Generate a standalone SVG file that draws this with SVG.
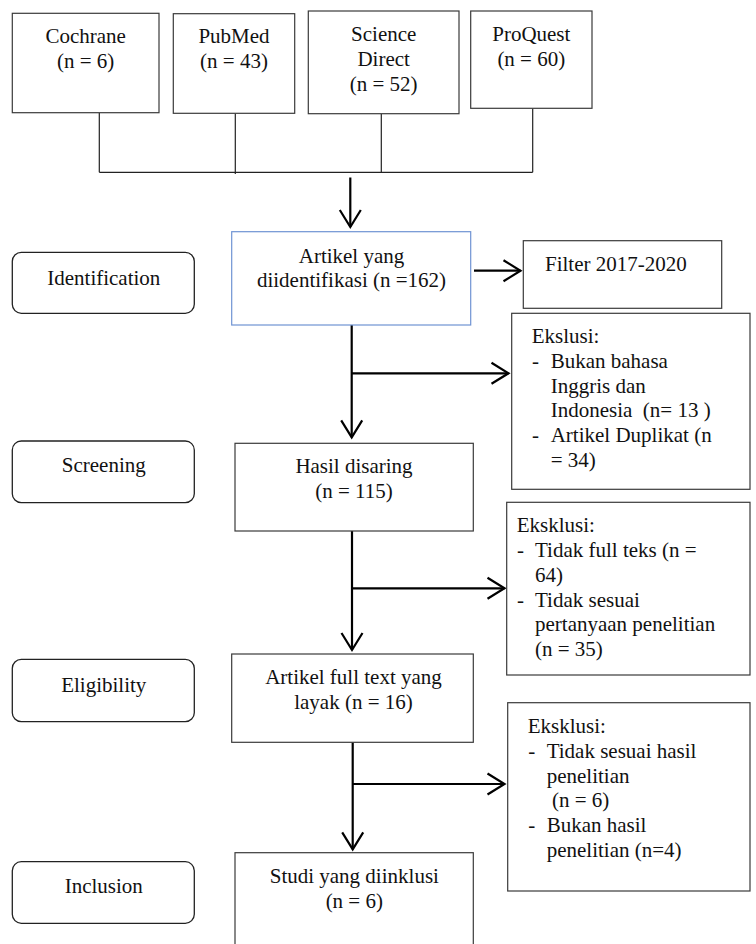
<svg xmlns="http://www.w3.org/2000/svg" width="756" height="944" viewBox="0 0 756 944">
<style>
text{font-family:"Liberation Serif","Times New Roman",serif;font-size:21px;fill:#111;}
.c{text-anchor:middle;}
.p{white-space:pre;}
.box{fill:#fff;stroke:#3a3a3a;stroke-width:1.2;}
.blue{fill:#fff;stroke:#6f93d3;stroke-width:1.2;}
.stage{fill:#fff;stroke:#222;stroke-width:1.3;}
.thin{fill:none;stroke:#222;stroke-width:1.2;}
.flow{fill:none;stroke:#000;stroke-width:2.2;}
</style>
<defs>
<marker id="arr" viewBox="0 0 22 24" refX="19" refY="12" markerWidth="22" markerHeight="24" markerUnits="userSpaceOnUse" orient="auto">
<path d="M2,1.5 L19,12 L2,22.5" fill="none" stroke="#000" stroke-width="2.2"/>
</marker>
</defs>

<g id="connectors">
<path class="thin" d="M99.3,113 V172.3 M235.3,113.5 V174 M381.3,114 V172.3 M532.7,108.5 V172.3 M99.3,172.3 H532.7"/>
<line class="flow" x1="350.3" y1="177.5" x2="350.3" y2="227" marker-end="url(#arr)"/>
<line class="flow" x1="474" y1="270.7" x2="520.5" y2="270.7" marker-end="url(#arr)"/>
<line class="flow" x1="351.7" y1="325" x2="351.7" y2="437.3" marker-end="url(#arr)"/>
<line class="flow" x1="351.7" y1="373.3" x2="508.5" y2="373.3" marker-end="url(#arr)"/>
<line class="flow" x1="352" y1="521.7" x2="352" y2="650" marker-end="url(#arr)"/>
<line class="flow" x1="352" y1="588.3" x2="504.5" y2="588.3" marker-end="url(#arr)"/>
<line class="flow" x1="352.7" y1="742.3" x2="352.7" y2="849.3" marker-end="url(#arr)"/>
<line class="flow" x1="352.7" y1="784" x2="504.5" y2="784" marker-end="url(#arr)"/>
</g>

<g id="cochrane">
<rect class="box" x="12.3" y="13.3" width="146.7" height="99.4"/>
<text class="c" x="85.7" y="43.3">Cochrane</text>
<text class="c" x="85.7" y="68.3">(n = 6)</text>
</g>
<g id="pubmed">
<rect class="box" x="173.3" y="13.7" width="121.4" height="99.6"/>
<text class="c" x="234" y="43.3">PubMed</text>
<text class="c" x="234" y="68.3">(n = 43)</text>
</g>
<g id="sciencedirect">
<rect class="box" x="308.3" y="11" width="150.7" height="102.7"/>
<text class="c" x="383.7" y="41">Science</text>
<text class="c" x="383.7" y="66">Direct</text>
<text class="c" x="383.7" y="91">(n = 52)</text>
</g>
<g id="proquest">
<rect class="box" x="470.7" y="11" width="121.3" height="97.3"/>
<text class="c" x="531.3" y="41">ProQuest</text>
<text class="c" x="531.3" y="66">(n = 60)</text>
</g>

<g id="identification">
<rect class="stage" x="12.3" y="252.3" width="182" height="61" rx="9"/>
<text class="c" x="103.8" y="285">Identification</text>
</g>
<g id="screening">
<rect class="stage" x="12.3" y="441" width="182" height="61.7" rx="9"/>
<text class="c" x="103.8" y="471.7">Screening</text>
</g>
<g id="eligibility">
<rect class="stage" x="12.3" y="659.3" width="182" height="62.4" rx="9"/>
<text class="c" x="103.8" y="691.7">Eligibility</text>
</g>
<g id="inclusion">
<rect class="stage" x="12.3" y="861.7" width="182" height="61.6" rx="9"/>
<text class="c" x="103.8" y="893.3">Inclusion</text>
</g>

<g id="artikel">
<rect class="blue" x="231.7" y="231.7" width="239" height="93.3"/>
<text class="c" x="351.5" y="263.3">Artikel yang</text>
<text class="c" x="351.5" y="287.3">diidentifikasi (n =162)</text>
</g>
<g id="filter">
<rect class="box" x="523.3" y="240.7" width="198.4" height="67.6"/>
<text x="545" y="270.7">Filter 2017-2020</text>
</g>
<g id="ekslusi1">
<rect class="box" x="511.7" y="313.3" width="238.3" height="176"/>
<text x="531.7" y="343.3">Ekslusi:</text>
<text x="532" y="368">-</text>
<text x="550.7" y="368">Bukan bahasa</text>
<text x="550.7" y="392.5">Inggris dan</text>
<text class="p" x="550.7" y="417">Indonesia  (n= 13 )</text>
<text x="532" y="441.7">-</text>
<text x="550.7" y="441.7">Artikel Duplikat (n</text>
<text x="550.7" y="466.5">= 34)</text>
</g>
<g id="hasil">
<rect class="box" x="235" y="443.3" width="238.3" height="87.7"/>
<text class="c" x="354" y="473.3">Hasil disaring</text>
<text class="c" x="354" y="498.3">(n = 115)</text>
</g>
<g id="eksklusi2">
<rect class="box" x="506.7" y="502.3" width="243.3" height="172.7"/>
<text x="516.7" y="531.7">Eksklusi:</text>
<text x="517" y="556.7">-</text>
<text x="535" y="556.7">Tidak full teks (n =</text>
<text x="535" y="581.5">64)</text>
<text x="517" y="606.5">-</text>
<text x="535" y="606.5">Tidak sesuai</text>
<text x="535" y="631">pertanyaan penelitian</text>
<text x="535" y="656">(n = 35)</text>
</g>
<g id="fulltext">
<rect class="box" x="231.7" y="654" width="241.6" height="88.3"/>
<text class="c" x="353.5" y="684">Artikel full text yang</text>
<text class="c" x="353.5" y="708.5">layak (n = 16)</text>
</g>
<g id="eksklusi3">
<rect class="box" x="507.7" y="702.7" width="242.3" height="188.3"/>
<text x="527.7" y="732.7">Eksklusi:</text>
<text x="528.3" y="757.5">-</text>
<text x="546.7" y="757.5">Tidak sesuai hasil</text>
<text x="546.7" y="782.5">penelitian</text>
<text class="p" x="546.7" y="807"> (n = 6)</text>
<text x="528.3" y="832">-</text>
<text x="546.7" y="832">Bukan hasil</text>
<text x="546.7" y="857">penelitian (n=4)</text>
</g>
<g id="studi">
<rect class="box" x="235" y="852.7" width="238.3" height="96"/>
<text class="c" x="354.3" y="883.3">Studi yang diinklusi</text>
<text class="c" x="354.3" y="908.3">(n = 6)</text>
</g>
</svg>
